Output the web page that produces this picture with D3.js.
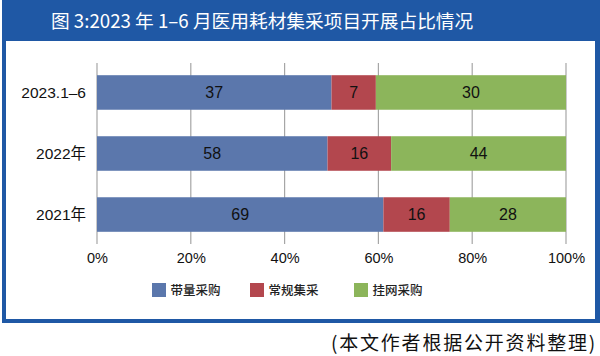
<!DOCTYPE html>
<html><head><meta charset="utf-8">
<script src="https://cdn.jsdelivr.net/npm/d3@7"></script>
<style>body{margin:0;background:#fff}svg{display:block}</style>
</head><body>
<script>
const categories = ["2023.1–6", "2022年", "2021年"];
const seriesNames = ["带量采购", "常规集采", "挂网采购"];
const volumePurchase = [37, 58, 69];
const regularCollect = [7, 16, 16];
const onlinePurchase = [30, 44, 28];
const xTicks = [0, 0.2, 0.4, 0.6, 0.8, 1.0];
const colors = ["#5b77ac", "#b3474e", "#8cb55b"];
const titleText = "图 3:2023 年 1–6 月医用耗材集采项目开展占比情况";
const sourceText = "(本文作者根据公开资料整理)";

const W = 600, H = 356;
const svg = d3.select("body").append("svg").attr("width", W).attr("height", H);
const frameBlue = "#1f58a5";
const latin = "'Liberation Sans', Arial, 'Noto Sans CJK SC', sans-serif";
const cjk = "'Noto Sans CJK SC', 'Liberation Sans', sans-serif";

// frame
svg.append("rect").attr("x", 2).attr("y", 0).attr("width", 598).attr("height", 41).attr("fill", frameBlue);
svg.append("rect").attr("x", 2).attr("y", 0).attr("width", 4).attr("height", 323).attr("fill", frameBlue);
svg.append("rect").attr("x", 595).attr("y", 0).attr("width", 5).attr("height", 323).attr("fill", frameBlue);
svg.append("rect").attr("x", 2).attr("y", 319).attr("width", 598).attr("height", 4).attr("fill", frameBlue);

svg.append("text").attr("x", 51).attr("y", 27.5).attr("fill", "#fff")
  .attr("font-family", cjk).attr("font-size", 18.7).attr("font-weight", 400)
  .text(titleText);

const rows = categories.map((c, i) => {
  const vals = [volumePurchase[i], regularCollect[i], onlinePurchase[i]];
  const total = d3.sum(vals);
  let acc = 0;
  return {cat: c, segs: vals.map((v, k) => { const s = {k, v, x0: acc / total, x1: (acc + v) / total}; acc += v; return s; })};
});

const x = d3.scaleLinear().domain([0, 1]).range([97, 566]);
const y = d3.scaleBand().domain(categories).range([63, 244]).paddingInner(0.434).paddingOuter(0.2);

// gridlines
svg.append("g").selectAll("line").data(xTicks).join("line")
  .attr("x1", d => x(d)).attr("x2", d => x(d)).attr("y1", 63).attr("y2", 244)
  .attr("stroke", "#a6a6a6").attr("stroke-width", 1.2);

const g = svg.append("g");
rows.forEach(r => {
  g.selectAll(null).data(r.segs).join("rect")
    .attr("x", d => x(d.x0)).attr("width", d => x(d.x1) - x(d.x0))
    .attr("y", y(r.cat)).attr("height", y.bandwidth())
    .attr("fill", d => colors[d.k]);
  g.selectAll(null).data(r.segs).join("text")
    .attr("x", d => (x(d.x0) + x(d.x1)) / 2).attr("y", y(r.cat) + y.bandwidth() / 2 + 5.5)
    .attr("text-anchor", "middle").attr("font-family", latin).attr("font-size", 16).attr("fill", "#111")
    .text(d => d.v);
});

// y labels
svg.append("g").selectAll("text").data(categories).join("text")
  .attr("x", 86).attr("y", d => y(d) + y.bandwidth() / 2 + 5.5)
  .attr("text-anchor", "end").attr("font-family", latin).attr("font-size", 15.5).attr("fill", "#111")
  .text(d => d);

// x axis labels
const xAxis = d3.axisBottom(x).tickValues(xTicks).tickFormat(d3.format(".0%")).tickSize(0).tickPadding(0);
const ax = svg.append("g").attr("transform", "translate(0,250)").call(xAxis);
ax.select(".domain").remove();
ax.selectAll("text").attr("font-family", latin).attr("font-size", 14.5).attr("fill", "#111").attr("dy", "0.9em");

// legend
const legX = [152, 250, 354];
const leg = svg.append("g").selectAll("g").data(seriesNames).join("g")
  .attr("transform", (d, i) => `translate(${legX[i]},283)`);
leg.append("rect").attr("width", 14).attr("height", 14).attr("fill", (d, i) => colors[i]);
leg.append("text").attr("x", 18.5).attr("y", 12).attr("font-family", cjk).attr("font-size", 12.5)
  .attr("font-weight", 500).attr("fill", "#222").text(d => d);

// source
svg.append("text").attr("x", 597).attr("y", 350).attr("text-anchor", "end")
  .attr("font-family", cjk).attr("font-size", 19).attr("letter-spacing", 1.8).attr("fill", "#111")
  .text(sourceText);
</script>
</body></html>
